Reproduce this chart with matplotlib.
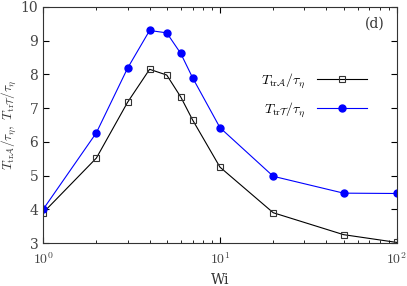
import matplotlib.pyplot as plt
import numpy as np

plt.rcParams['mathtext.fontset'] = 'cm'
plt.rcParams['font.family'] = 'serif'
plt.rcParams['font.serif'] = ['DejaVu Serif']

wi = [1, 2, 3, 4, 5, 6, 7, 10, 20, 50, 100]
t_a = [3.9, 5.52, 7.17, 8.15, 7.98, 7.33, 6.65, 5.25, 3.9, 3.25, 3.02]
t_t = [4.0, 6.27, 8.18, 9.3, 9.23, 8.62, 7.9, 6.42, 4.98, 4.48, 4.47]

fig = plt.figure(figsize=(4.07, 2.86), dpi=100)
ax = fig.add_axes([0.106, 0.150, 0.869, 0.826])

ax.plot(wi, t_a, color='black', lw=0.8, marker='s', ms=5, mfc='none', mec='#333333', mew=0.8,
        label=r'$T_{\mathrm{tr}\mathcal{A}}/\tau_\eta$')
ax.plot(wi, t_t, color='blue', lw=0.8, marker='o', ms=5, mfc='blue', mec='blue',
        label=r'$T_{\mathrm{tr}\mathcal{T}}/\tau_\eta$')

ax.set_xscale('log')
ax.set_xlim(1, 100)
ax.set_ylim(3, 10)
ax.set_xlabel('Wi', fontsize=10, color='#333333', labelpad=4)
ax.set_ylabel(r'$T_{\mathrm{tr}\mathcal{A}}/\tau_\eta,\ T_{\mathrm{tr}\mathcal{T}}/\tau_\eta$', fontsize=9.5,
              color='#333333', labelpad=2)
ax.tick_params(which='both', direction='in', top=True, right=True, labelsize=10, labelcolor='#444444')
ax.tick_params(which='major', length=4)
ax.tick_params(which='minor', length=2.5)
ax.tick_params(axis='x', pad=6)
for s in ax.spines.values():
    s.set_color('#333333')
    s.set_linewidth(0.8)
ax.set_xticks([1, 10, 100])
ax.set_xticklabels([r'$10^0$', r'$10^1$', r'$10^2$'])

ax.text(0.965, 0.93, '(d)', transform=ax.transAxes, ha='right', va='center', fontsize=10,
        color='#333333')
ax.legend(loc='center right', bbox_to_anchor=(0.95, 0.625), frameon=False, markerfirst=False,
          fontsize=10, handlelength=3.6, labelspacing=0.75)

fig.savefig('out.png', dpi=100)
